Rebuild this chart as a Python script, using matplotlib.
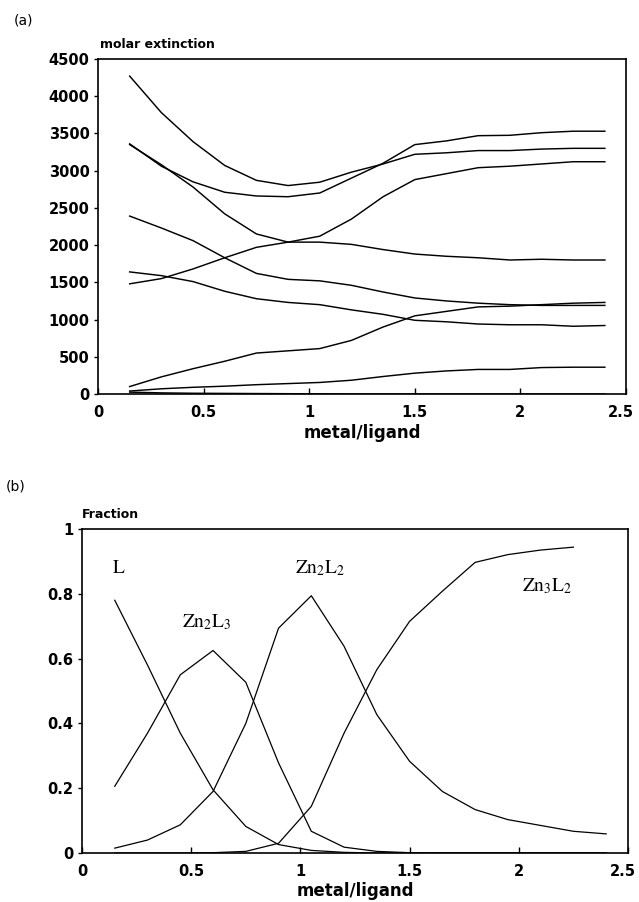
import matplotlib
matplotlib.use("Agg")
import matplotlib.pyplot as plt
from matplotlib.transforms import ScaledTranslation

plt.rcParams["font.family"] = ["DejaVu Sans"]
plt.rcParams["mathtext.fontset"] = "stix"

# metal/ligand ratio, same points for both panels
ratio = [0.15, 0.3, 0.45, 0.6, 0.75, 0.9, 1.05, 1.2, 1.35, 1.5, 1.65, 1.8, 1.95, 2.1, 2.25, 2.4]

# (a) molar extinction, one curve per wavelength
eps_1 = [4270, 3780, 3390, 3070, 2870, 2800, 2845, 2980, 3090, 3220, 3240, 3270, 3270, 3290, 3300, 3300]
eps_2 = [3360, 3060, 2850, 2710, 2660, 2650, 2700, 2900, 3100, 3350, 3400, 3470, 3475, 3510, 3530, 3530]
eps_3 = [3350, 3080, 2780, 2420, 2150, 2040, 2040, 2010, 1940, 1880, 1850, 1830, 1800, 1810, 1800, 1800]
eps_4 = [1480, 1550, 1680, 1830, 1970, 2040, 2120, 2350, 2650, 2880, 2960, 3040, 3060, 3090, 3120, 3120]
eps_5 = [2390, 2230, 2060, 1830, 1620, 1540, 1520, 1460, 1370, 1290, 1250, 1220, 1200, 1190, 1190, 1190]
eps_6 = [1640, 1590, 1510, 1380, 1280, 1230, 1200, 1130, 1070, 990, 970, 940, 930, 930, 910, 920]
eps_7 = [100, 230, 340, 440, 550, 580, 610, 720, 900, 1050, 1110, 1170, 1180, 1200, 1220, 1230]
eps_8 = [40, 70, 90, 105, 125, 140, 155, 185, 235, 280, 310, 330, 330, 355, 360, 360]
eps_9 = [25, 15, 10, 8, 6, 4, 2, 0, 0, 0, 0, 0, 0, 0, 0, 0]
extinction = [eps_1, eps_2, eps_3, eps_4, eps_5, eps_6, eps_7, eps_8, eps_9]

# (b) species distribution
frac_L = [0.78, 0.58, 0.37, 0.195, 0.082, 0.026, 0.008, 0.002, 0, 0, 0, 0, 0, 0, 0, 0]
frac_Zn2L3 = [0.206, 0.37, 0.55, 0.625, 0.527, 0.278, 0.067, 0.018, 0.005, 0.001, 0, 0, 0, 0, 0, 0]
frac_Zn2L2 = [0.015, 0.04, 0.087, 0.19, 0.40, 0.694, 0.794, 0.638, 0.427, 0.283, 0.19, 0.134, 0.103, 0.085, 0.067, 0.059]
frac_Zn3L2 = [0, 0, 0, 0.001, 0.005, 0.03, 0.144, 0.37, 0.566, 0.715, 0.808, 0.897, 0.921, 0.935, 0.944]

species_labels = [r"$\mathrm{L}$", r"$\mathrm{Zn_2L_3}$", r"$\mathrm{Zn_2L_2}$", r"$\mathrm{Zn_3L_2}$"]
label_x = [0.17, 0.57, 1.09, 2.13]
label_y = [0.88, 0.712, 0.88, 0.823]

W, H = 639, 902
TICK_FONT = dict(fontsize=10.5, fontweight="bold")


def px(x, y):
    # pixel coords (top-left origin) -> figure fraction
    return x / W, 1 - y / H


def style_axes(ax, fig):
    for sp in ax.spines.values():
        sp.set_linewidth(1.2)
    ax.set_xlim(0, 2.5)
    ax.set_xticks([0, 0.5, 1, 1.5, 2, 2.5])
    ax.set_xticklabels(["0", "0.5", "1", "1.5", "2", "2.5"], **TICK_FONT)
    ax.tick_params(axis="x", direction="in", length=4, width=1, pad=8)
    ax.tick_params(axis="y", direction="out", length=3, width=1, pad=3)
    # последняя подпись у самого края — чуть сдвигаем влево
    last = ax.get_xticklabels()[-1]
    last.set_transform(last.get_transform() + ScaledTranslation(-5 / 100, 0, fig.dpi_scale_trans))


fig = plt.figure(figsize=(W / 100, H / 100), dpi=100)

# Верхняя панель — молярная экстинкция
ax1 = fig.add_axes([98 / W, 1 - 394 / H, 528 / W, 335 / H])
for curve in extinction:
    ax1.plot(ratio, curve, color="black", linewidth=1.05)
style_axes(ax1, fig)
ax1.set_ylim(0, 4500)
ax1.set_yticks(range(0, 4501, 500))
ax1.set_yticklabels([str(v) for v in range(0, 4501, 500)], **TICK_FONT)
ax1.set_xlabel("metal/ligand", fontsize=12, fontweight="bold", labelpad=3)
fig.text(*px(100, 45), "molar extinction", fontsize=9, fontweight="bold", va="center", ha="left")
fig.text(*px(14, 20), "(a)", fontsize=10, va="center", ha="left")

# Нижняя панель — доли частиц
ax2 = fig.add_axes([82 / W, 1 - 853 / H, 546 / W, 324 / H])
ax2.plot(ratio, frac_L, color="black", linewidth=0.9)
ax2.plot(ratio, frac_Zn2L3, color="black", linewidth=0.9)
ax2.plot(ratio, frac_Zn2L2, color="black", linewidth=0.9)
ax2.plot(ratio[:len(frac_Zn3L2)], frac_Zn3L2, color="black", linewidth=0.9)
style_axes(ax2, fig)
ax2.set_ylim(0, 1)
ax2.set_yticks([0, 0.2, 0.4, 0.6, 0.8, 1])
ax2.set_yticklabels(["0", "0.2", "0.4", "0.6", "0.8", "1"], **TICK_FONT)
ax2.set_xlabel("metal/ligand", fontsize=12, fontweight="bold", labelpad=2)
for lab, lx, ly in zip(species_labels, label_x, label_y):
    ax2.text(lx, ly, lab, fontsize=14, ha="center", va="center")
fig.text(*px(82, 515), "Fraction", fontsize=9, fontweight="bold", va="center", ha="left")
fig.text(*px(6, 487), "(b)", fontsize=10, va="center", ha="left")

fig.savefig("out.png", dpi=100)
